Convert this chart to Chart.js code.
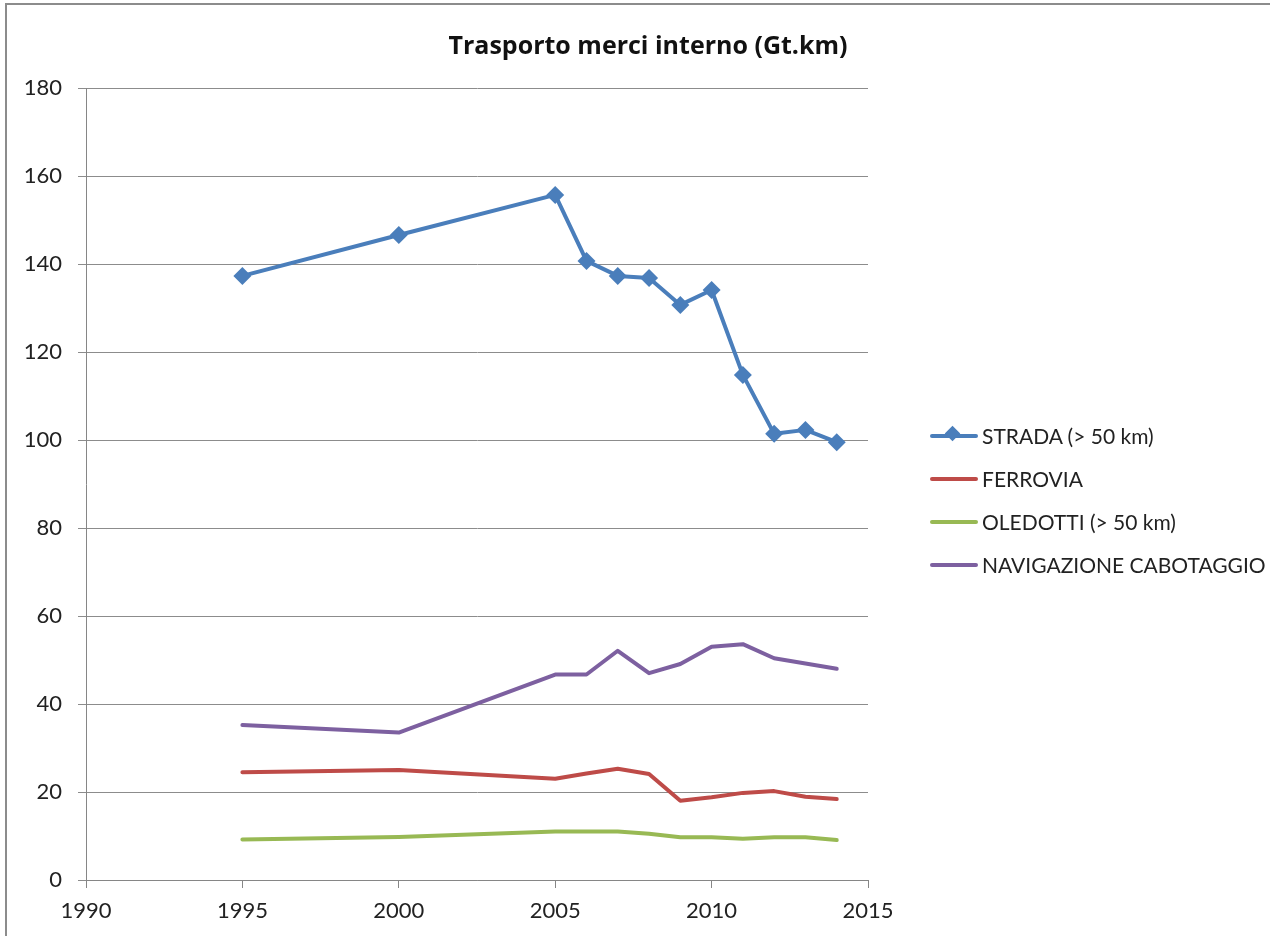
<!DOCTYPE html>
<html lang="it">
<head>
  <meta charset="UTF-8" />
  <title>Trasporto merci interno</title>
  <script src="https://cdn.jsdelivr.net/npm/chart.js@4.4.1/dist/chart.umd.min.js"></script>
  <style>
    html,body { margin:0; padding:0; background:#fff; overflow:hidden; }
    .frame    { position:absolute; left:5px; top:3px; width:1400px; height:1100px;
                border:2px solid #8c8c8c; box-sizing:border-box; }
    .wrap     { position:absolute; left:0; top:0; width:1270px; height:936px; }
    .title    { position:absolute; left:398px; top:27px; width:500px; text-align:center;
                font-family:"Open Sans", sans-serif; font-weight:bold; font-size:25px; color:#111;
                white-space:nowrap; }
    /* legend on the right, Excel style */
    .legend   { position:absolute; left:930px; top:414px; font-family:Lato, "Open Sans", sans-serif;
                font-size:21px; color:#222; }
    .legend div { height:43px; display:flex; align-items:center; }
    .legend .swatch { position:relative; width:48px; height:4px; border-radius:2px; margin-right:4px; }
    .legend .dia { position:absolute; left:17px; top:-6px; width:11px; height:11px;
                   background:#4a7ebb; transform:rotate(45deg); }
  </style>
</head>
<body>
  <div class="frame"></div>
  <div class="wrap"><canvas id="c" width="1270" height="936"></canvas></div>
  <div class="title">Trasporto merci interno (Gt.km)</div>

  <div class="legend">
    <div><span class="swatch" style="background:#4a7ebb"><span class="dia"></span></span>STRADA (&gt; 50 km)</div>
    <div><span class="swatch" style="background:#be4b48"></span>FERROVIA</div>
    <div><span class="swatch" style="background:#98b954"></span>OLEDOTTI (&gt; 50 km)</div>
    <div><span class="swatch" style="background:#7d60a0"></span>NAVIGAZIONE CABOTAGGIO</div>
  </div>

  <script>
    /* data (Gt.km) */
    const years       = [1995, 2000, 2005, 2006, 2007, 2008, 2009, 2010, 2011, 2012, 2013, 2014];
    const strada      = [137.3, 146.6, 155.7, 140.7, 137.3, 136.8, 130.7, 134.1, 114.8, 101.4, 102.3, 99.5];
    const ferrovia    = [24.5, 25.0, 23.0, 24.2, 25.3, 24.1, 18.0, 18.8, 19.8, 20.2, 18.9, 18.4];
    const oledotti    = [9.2, 9.8, 11.0, 11.0, 11.0, 10.5, 9.7, 9.7, 9.4, 9.7, 9.7, 9.1];
    const navigazione = [35.2, 33.5, 46.7, 46.7, 52.1, 47.0, 49.1, 53.0, 53.6, 50.4, 49.2, 48.0];

    const xTicks = [1990, 1995, 2000, 2005, 2010, 2015];
    const yTicks = [0, 20, 40, 60, 80, 100, 120, 140, 160, 180];

    const pts = arr => arr.map((v,i)=>({x:years[i], y:v}));
    const FONT = 'Lato, "Open Sans", sans-serif';

    function line(label, arr, color, marker){
      return {
        label, data:pts(arr), borderColor:color, backgroundColor:color,
        borderWidth:4, borderJoinStyle:"round", borderCapStyle:"round",
        pointStyle:"rectRot", pointRadius: marker ? 9 : 0, pointHoverRadius: marker ? 9 : 0,
        pointBorderWidth:0, tension:0
      };
    }

    new Chart(document.getElementById("c"), {
      type:"line",
      data:{ datasets:[
        line("STRADA (> 50 km)", strada, "#4a7ebb", true),
        line("FERROVIA", ferrovia, "#be4b48", false),
        line("OLEDOTTI (> 50 km)", oledotti, "#98b954", false),
        line("NAVIGAZIONE CABOTAGGIO", navigazione, "#7d60a0", false)
      ]},
      options:{
        responsive:false, animation:false, events:[],
        layout:{ padding:{ left:0, right:402, top:88, bottom:0 } },
        plugins:{
          legend:{ display:false },
          tooltip:{ enabled:false },
          title:{ display:false }
        },
        scales:{
          x:{
            type:"linear", min:1990, max:2015,
            afterBuildTicks: s => { s.ticks = xTicks.map(v=>({value:v})); },
            afterFit: s => { s.height = 56; },
            grid:{ drawOnChartArea:false, drawTicks:true, tickLength:8, color:"#868686", lineWidth:1 },
            border:{ color:"#868686", width:1 },
            ticks:{ color:"#222", font:{ family:FONT, size:22 }, padding:10, maxRotation:0,
                    callback: v => String(v) }
          },
          y:{
            min:0, max:180,
            afterBuildTicks: s => { s.ticks = yTicks.map(v=>({value:v})); },
            afterFit: s => { s.width = 86; },
            grid:{ color:"#8c8c8c", lineWidth:1, drawTicks:true, tickLength:8 },
            border:{ color:"#868686", width:1 },
            ticks:{ color:"#222", font:{ family:FONT, size:22 }, padding:16 }
          }
        }
      }
    });
  </script>
</body>
</html>
